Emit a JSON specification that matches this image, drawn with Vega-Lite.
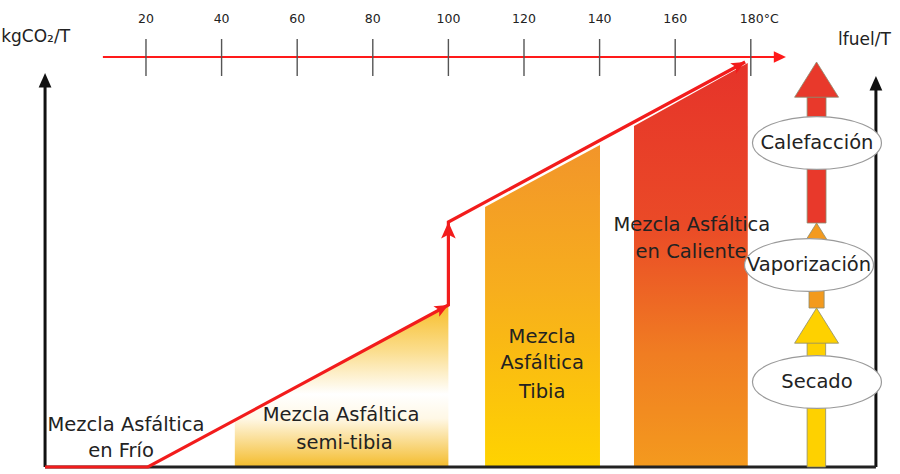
{
  "$schema": "https://vega.github.io/schema/vega-lite/v6.json",
  "width": 900,
  "height": 474,
  "padding": 0,
  "autosize": {"type": "none"},
  "background": "#ffffff",
  "config": {"view": {"stroke": null}, "text": {"font": "DejaVu Sans", "color": "#222222"}},
  "datasets": {
    "semiTibia": [{"T": 43.5, "v": 47}, {"T": 100, "v": 162}],
    "tibia": [{"T": 109.7, "v": 260}, {"T": 140.1, "v": 322}],
    "caliente": [{"T": 149.1, "v": 341}, {"T": 179.2, "v": 404}],
    "co2": [
      {"step": 1, "T": -6.7, "v": 0},
      {"step": 2, "T": 20.5, "v": 0},
      {"step": 3, "T": 100, "v": 162},
      {"step": 4, "T": 100, "v": 245},
      {"step": 5, "T": 178.5, "v": 405}
    ],
    "slantHeads": [{"T": 100, "v": 162}, {"T": 178.5, "v": 405}],
    "jumpHead": [{"T": 100, "v": 245}],
    "tempAxis": [{"step": 1, "T": 8.6, "v": 410}, {"step": 2, "T": 188, "v": 410}],
    "tempHead": [{"T": 189.3, "v": 410}],
    "ticks": [
      {"T": 20, "v": 391, "v2": 428, "label": "20"},
      {"T": 40, "v": 391, "v2": 428, "label": "40"},
      {"T": 60, "v": 391, "v2": 428, "label": "60"},
      {"T": 80, "v": 391, "v2": 428, "label": "80"},
      {"T": 100, "v": 391, "v2": 428, "label": "100"},
      {"T": 120, "v": 391, "v2": 428, "label": "120"},
      {"T": 140, "v": 391, "v2": 428, "label": "140"},
      {"T": 160, "v": 391, "v2": 428, "label": "160"}
    ],
    "tick180": [{"T": 180, "v": 391, "v2": 428, "label": "180°C"}],
    "vAxes": [
      {"axis": "kgCO2/T", "T": -6.7, "v": 0, "v2": 384},
      {"axis": "lfuel/T", "T": 213.1, "v": 0, "v2": 381}
    ],
    "vAxisHeads": [{"axis": "kgCO2/T", "T": -6.7, "v": 394}, {"axis": "lfuel/T", "T": 213.1, "v": 391}],
    "baseAxis": [{"T": -6.7, "T2": 213.1, "v": 0}],
    "shafts": [
      {"stage": "Calefacción", "T": 194.9, "T2": 199.9, "v": 370, "v2": 244},
      {"stage": "Vaporización", "T": 195.4, "T2": 199.4, "v": 209, "v2": 159},
      {"stage": "Secado", "T": 194.9, "T2": 199.8, "v": 127, "v2": 0}
    ],
    "heads": [
      {"stage": "Calefacción", "T": 197.4, "v": 405},
      {"stage": "Vaporización", "T": 197.4, "v": 244},
      {"stage": "Secado", "T": 197.4, "v": 159}
    ],
    "ellipses": [
      {"stage": "Calefacción", "T": 197.5, "v": 324},
      {"stage": "Vaporización", "T": 195.4, "v": 202},
      {"stage": "Secado", "T": 197.5, "v": 85}
    ],
    "zoneLabels": [
      {"T": 14.7, "v": 42, "text": "Mezcla Asfáltica"},
      {"T": 13.4, "v": 16, "text": "en Frío"},
      {"T": 71.6, "v": 52, "text": "Mezcla Asfáltica"},
      {"T": 72.5, "v": 24, "text": "semi-tibia"},
      {"T": 124.8, "v": 130, "text": "Mezcla"},
      {"T": 124.8, "v": 104, "text": "Asfáltica"},
      {"T": 124.8, "v": 75, "text": "Tibia"},
      {"T": 164.4, "v": 242, "text": "Mezcla Asfáltica"},
      {"T": 164.2, "v": 215, "text": "en Caliente"}
    ],
    "axisTitles": [
      {"T": -18.3, "v": 430, "text": "kgCO₂/T", "side": "left"},
      {"T": 203.1, "v": 427, "text": "lfuel/T", "side": "right"}
    ]
  },
  "encoding": {
    "x": {"field": "T", "type": "quantitative", "scale": {"domain": [-18.62, 219.47], "nice": false, "zero": false}, "axis": null},
    "y": {"field": "v", "type": "quantitative", "scale": {"domain": [-7, 467], "nice": false, "zero": false}, "axis": null}
  },
  "layer": [
    {
      "data": {"name": "semiTibia"},
      "mark": {"type": "area", "color": {"gradient": "linear", "x1": 0, "y1": 0, "x2": 0, "y2": 1,
        "stops": [{"offset": 0, "color": "#F7BE2A"}, {"offset": 0.28, "color": "#FBDD8C"}, {"offset": 0.55, "color": "#FFFFFF"}, {"offset": 0.7, "color": "#FFF8E6"}, {"offset": 1, "color": "#F4BC2C"}]}},
      "encoding": {"y2": {"datum": 0}}
    },
    {
      "data": {"name": "tibia"},
      "mark": {"type": "area", "color": {"gradient": "linear", "x1": 0, "y1": 0, "x2": 0, "y2": 1,
        "stops": [{"offset": 0, "color": "#F2952A"}, {"offset": 0.45, "color": "#F7AE1D"}, {"offset": 1, "color": "#FFD300"}]}},
      "encoding": {"y2": {"datum": 0}}
    },
    {
      "data": {"name": "caliente"},
      "mark": {"type": "area", "color": {"gradient": "linear", "x1": 0, "y1": 0, "x2": 0, "y2": 1,
        "stops": [{"offset": 0, "color": "#E6332A"}, {"offset": 0.4, "color": "#EA4A27"}, {"offset": 0.72, "color": "#F07D22"}, {"offset": 1, "color": "#F49A1E"}]}},
      "encoding": {"y2": {"datum": 0}}
    },
    {
      "data": {"name": "vAxes"},
      "mark": {"type": "rule", "color": "#111111", "strokeWidth": 3},
      "encoding": {"y2": {"field": "v2"}}
    },
    {
      "data": {"name": "baseAxis"},
      "mark": {"type": "rule", "color": "#222222", "strokeWidth": 3},
      "encoding": {"x2": {"field": "T2"}}
    },
    {
      "data": {"name": "vAxisHeads"},
      "mark": {"type": "point", "shape": "M 0 0 L 0.75 1.7 L -0.75 1.7 Z", "size": 290, "filled": true, "color": "#111111", "opacity": 1, "strokeWidth": 0}
    },
    {
      "data": {"name": "tempAxis"},
      "mark": {"type": "line", "color": "#FF1A1A", "strokeWidth": 2},
      "encoding": {"order": {"field": "step", "type": "quantitative"}}
    },
    {
      "data": {"name": "tempHead"},
      "mark": {"type": "point", "shape": "M 0 0 L 0.75 1.6 L -0.75 1.6 Z", "size": 230, "filled": true, "color": "#FF1A1A", "opacity": 1, "strokeWidth": 0, "angle": 90}
    },
    {
      "data": {"name": "ticks"},
      "layer": [
        {"mark": {"type": "rule", "color": "#555555", "strokeWidth": 1.4}, "encoding": {"y2": {"field": "v2"}}},
        {"mark": {"type": "text", "fontSize": 12.5, "baseline": "middle", "align": "center", "color": "#222222"}, "encoding": {"y": {"datum": 448}, "text": {"field": "label"}}}
      ]
    },
    {
      "data": {"name": "tick180"},
      "layer": [
        {"mark": {"type": "rule", "color": "#555555", "strokeWidth": 1.4}, "encoding": {"y2": {"field": "v2"}}},
        {"mark": {"type": "text", "fontSize": 12.5, "baseline": "middle", "align": "left", "dx": -11, "color": "#222222"}, "encoding": {"y": {"datum": 448}, "text": {"field": "label"}}}
      ]
    },
    {
      "data": {"name": "co2"},
      "mark": {"type": "line", "color": "#F21C1C", "strokeWidth": 3.2},
      "encoding": {"order": {"field": "step", "type": "quantitative"}}
    },
    {
      "data": {"name": "slantHeads"},
      "mark": {"type": "point", "shape": "M 0 0 L 0.75 1.7 L 0 1.3 L -0.75 1.7 Z", "size": 260, "filled": true, "color": "#F21C1C", "opacity": 1, "strokeWidth": 0, "angle": 61.6}
    },
    {
      "data": {"name": "jumpHead"},
      "mark": {"type": "point", "shape": "M 0 0 L 0.75 1.7 L 0 1.3 L -0.75 1.7 Z", "size": 380, "filled": true, "color": "#F21C1C", "opacity": 1, "strokeWidth": 0}
    },
    {
      "data": {"name": "zoneLabels"},
      "mark": {"type": "text", "fontSize": 19.5, "baseline": "middle", "align": "center"},
      "encoding": {"text": {"field": "text"}}
    },
    {
      "data": {"name": "shafts"},
      "mark": {"type": "rect", "stroke": "#8C8C70", "strokeWidth": 0.8, "opacity": 1},
      "encoding": {
        "x2": {"field": "T2"},
        "y2": {"field": "v2"},
        "fill": {"field": "stage", "type": "nominal", "legend": null, "scale": {"domain": ["Calefacción", "Vaporización", "Secado"], "range": ["#E8392B", "#F39A1E", "#FED100"]}}
      }
    },
    {
      "data": {"name": "heads"},
      "mark": {"type": "point", "shape": "M 0 0 L 1 1.6 L -1 1.6 Z", "size": 1936, "filled": true, "opacity": 1, "stroke": "#8C8C70", "strokeWidth": 0.8},
      "encoding": {
        "fill": {"field": "stage", "type": "nominal", "legend": null, "scale": {"domain": ["Calefacción", "Vaporización", "Secado"], "range": ["#E8392B", "#F39A1E", "#FED100"]}}
      }
    },
    {
      "data": {"name": "ellipses"},
      "layer": [
        {"mark": {"type": "point", "shape": "M -1 0 A 1 0.41 0 1 0 1 0 A 1 0.41 0 1 0 -1 0 Z", "size": 16641, "fill": "#FFFFFF", "stroke": "#9A9A9A", "strokeWidth": 1.2, "opacity": 1}},
        {"mark": {"type": "text", "fontSize": 19.5, "baseline": "middle", "align": "center"}, "encoding": {"text": {"field": "stage"}}}
      ]
    },
    {
      "data": {"name": "axisTitles"},
      "layer": [
        {"transform": [{"filter": "datum.side === 'left'"}], "mark": {"type": "text", "fontSize": 17, "baseline": "middle", "align": "left"}, "encoding": {"text": {"field": "text"}}},
        {"transform": [{"filter": "datum.side === 'right'"}], "mark": {"type": "text", "fontSize": 17, "baseline": "middle", "align": "left"}, "encoding": {"text": {"field": "text"}}}
      ]
    }
  ]
}
